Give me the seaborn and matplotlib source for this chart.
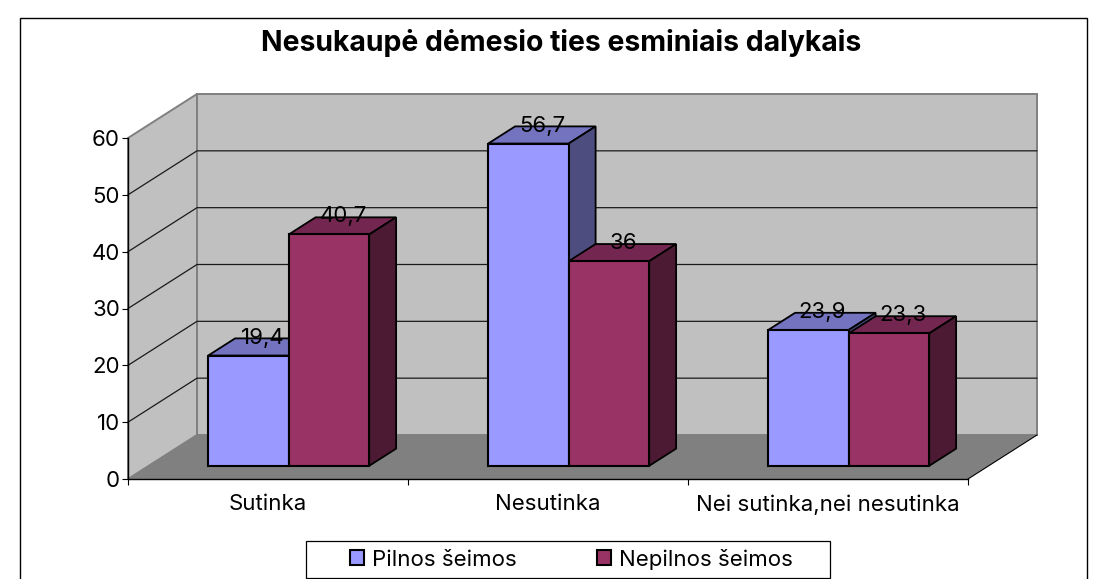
import numpy as np
import pandas as pd
import seaborn as sns
import matplotlib.pyplot as plt
from matplotlib.patches import Polygon, Rectangle
from matplotlib.transforms import Affine2D, IdentityTransform

categories = ["Sutinka", "Nesutinka", "Nei sutinka,nei nesutinka"]
groups = ["Pilnos šeimos", "Nepilnos šeimos"]
pilnos = [19.4, 56.7, 23.9]
nepilnos = [40.7, 36, 23.3]
title = "Nesukaupė dėmesio ties esminiais dalykais"

front_cols = ["#9999FF", "#993366"]
top_cols = ["#7373BF", "#732650"]
side_cols = ["#4D4D80", "#4D1A33"]

sns.set_theme(style="white")
plt.rcParams["font.family"] = ["Inter", "DejaVu Sans"]

fs = 16

W, H = 1107, 579
fig = plt.figure(figsize=(W / 100, H / 100), dpi=100)
ax = fig.add_axes([128 / W, (H - 479) / H, 840 / W, 341 / H])
ax.patch.set_visible(False)

df = pd.DataFrame(
    {
        "kat": categories * 2,
        "sk": pilnos + nepilnos,
        "grupe": [groups[0]] * 3 + [groups[1]] * 3,
    }
)

sns.barplot(
    data=df,
    x="kat",
    y="sk",
    hue="grupe",
    palette=front_cols,
    saturation=1,
    width=0.575,
    edgecolor="black",
    linewidth=1.5,
    ax=ax,
)
ax.set_xlim(-0.5, 2.5)
ax.set_ylim(0, 60)
ax.set_xlabel("")
ax.set_ylabel("")

# depth of the box in pixels (display y goes up)
depth = np.array([69.0, 44.0])
k_front = 0.30
k_bar = 0.39


def pt(x, y, k=0.0):
    return ax.transData.transform((x, y)) + k * depth


def face(points, **kw):
    p = Polygon(points, closed=True, transform=IdentityTransform(), clip_on=False, **kw)
    ax.add_artist(p)
    return p


# walls and floor
x0, x1 = -0.5, 2.5
face([pt(x0, 0), pt(x0, 60), pt(x0, 60, 1), pt(x0, 0, 1)], fc="#C0C0C0", ec="#808080", lw=1.4, zorder=0.1)
face([pt(x0, 0, 1), pt(x0, 60, 1), pt(x1, 60, 1), pt(x1, 0, 1)], fc="#C0C0C0", ec="#808080", lw=1.4, zorder=0.2)
face([pt(x0, 0), pt(x1, 0), pt(x1, 0, 1), pt(x0, 0, 1)], fc="#808080", ec="none", zorder=0.3)

for v in [10, 20, 30, 40, 50]:
    a, b, c = pt(x0, v), pt(x0, v, 1), pt(x1, v, 1)
    ax.plot(*zip(a, b, c), transform=IdentityTransform(), color="#1a1a1a", lw=0.9, clip_on=False, zorder=0.4)
a, b = pt(x1, 0), pt(x1, 0, 1)
ax.plot(*zip(a, b), transform=IdentityTransform(), color="black", lw=0.8, clip_on=False, zorder=0.4)

# bars: the fronts sit a bit behind the axis plane, tops and sides get added
shift = Affine2D().translate(*(k_front * depth))
for i, cont in enumerate(ax.containers[:2]):
    for bar in cont.patches:
        xa, xb = bar.get_x(), bar.get_x() + bar.get_width()
        h = bar.get_height()
        bar.set_transform(ax.transData + shift)
        bar.set_clip_on(False)
        bar.set_zorder(2 + 2 * i)
        k1, k2 = k_front, k_front + k_bar
        face([pt(xa, h, k1), pt(xb, h, k1), pt(xb, h, k2), pt(xa, h, k2)], fc=top_cols[i], ec="black", lw=1.3, zorder=1 + 2 * i)
        face([pt(xb, 0, k1), pt(xb, h, k1), pt(xb, h, k2), pt(xb, 0, k2)], fc=side_cols[i], ec="black", lw=1.3, zorder=1 + 2 * i)
        txt = f"{h:g}".replace(".", ",")
        p = pt((xa + xb) / 2, h, k_front)
        ax.text(p[0] + 14, p[1] + 18, txt, transform=IdentityTransform(), ha="center", va="center",
                fontsize=fs, color="black", zorder=20)

# axes
for s in ["top", "right"]:
    ax.spines[s].set_visible(False)
for s in ["left", "bottom"]:
    ax.spines[s].set_visible(True)
    ax.spines[s].set_color("black")
    ax.spines[s].set_linewidth(1.0)
    ax.spines[s].set_zorder(10)
ax.set_yticks(range(0, 61, 10))
ax.tick_params(axis="y", which="major", left=True, length=4.3, width=0.8, color="black", labelsize=fs, pad=1.5, labelcolor="black")
ax.tick_params(axis="x", which="major", bottom=False, labelsize=fs, pad=5, labelcolor="black")
ax.set_xticks([-0.5, 0.5, 1.5, 2.5], minor=True)
ax.tick_params(axis="x", which="minor", bottom=True, length=4.3, width=0.8, color="black")

# legend box is wider than its entries, so the frame is drawn separately
sns.move_legend(
    ax,
    "center left",
    bbox_to_anchor=(350 / W, (H - 559) / H),
    bbox_transform=fig.transFigure,
    ncol=2,
    title=None,
    frameon=False,
    fontsize=fs,
    labelcolor="black",
    handlelength=0.65,
    handleheight=0.65,
    handletextpad=0.35,
    columnspacing=3.6,
    borderpad=0,
    borderaxespad=0,
)
ax.get_legend().set_zorder(30)
fig.patches.append(Rectangle((306 / W, (H - 578) / H), 524 / W, 37 / H, transform=fig.transFigure, fc="white", ec="black", lw=0.9, zorder=-1))

fig.text(561 / W, (H - 43) / H, title, ha="center", va="center", fontsize=20.4, fontweight="bold", color="black")

# outer chart frame, runs off the bottom of the image
fig.patches.append(Rectangle((20 / W, -0.02), 1067 / W, (H - 18) / H + 0.02, transform=fig.transFigure, fc="none", ec="black", lw=1.0, zorder=-1))

fig.savefig("out.png", dpi=100)
